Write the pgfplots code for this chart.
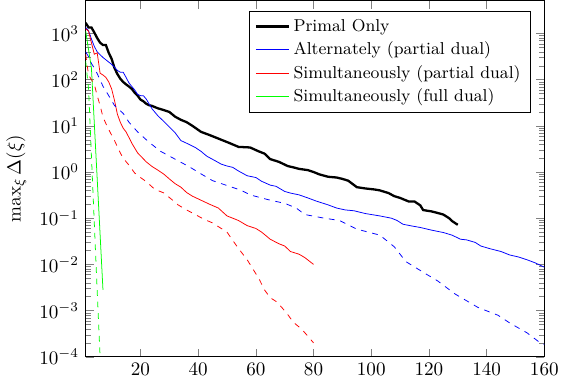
\documentclass[border=0pt]{standalone}
\usepackage{pgfplots}
\pgfplotsset{compat=1.18}
\begin{document}
\begin{tikzpicture}
\begin{axis}[
  scale only axis,
  width=240pt, height=186.5pt,
  ymode=log,
  xmin=1, xmax=160,
  ymin=1e-4, ymax=5.2e3,
  xtick={20,40,60,80,100,120,140,160},
  ytick={1e-4,1e-3,1e-2,1e-1,1,10,100,1000},
  ylabel={$\max_\xi \Delta(\xi)$},
  legend pos=north east,
  legend cell align=left,
  legend style={font=\small},
]
% Primal Only
\addplot[black, very thick] coordinates {
(1,1698)(2,1349)(3,1349)(4,1047)(5,794)(6,631)(7,562)(8,562)(9,380)(10,282)
(11,178)(12,132)(13,105)(14,89)(15,79)(16,71)(17,63)(18,52)(19,45)(20,37)
(21,34)(22,30)(23,28)(24,27)(26,24)(28,22)(30,20)(32,15.8)(34,13.5)(36,12)
(38,10)(41,7.4)(44,6.3)(48,5.0)(51,4.2)(54,3.5)(58,3.4)(61,2.8)(63,2.5)(65,1.9)
(68,1.66)(71,1.35)(73,1.26)(75,1.17)(78,1.10)(80,1.0)(82,0.89)(85,0.79)(88,0.76)(90,0.71)
(92,0.65)(95,0.47)(98,0.44)(101,0.42)(103,0.40)(106,0.35)(108,0.30)(110,0.275)(113,0.23)(115,0.23)
(117,0.19)(118,0.15)(121,0.14)(123,0.13)(125,0.12)(127,0.10)(128,0.087)(130,0.072)
};
\addlegendentry{Primal Only}
% Alternately (partial dual)
\addplot[blue] coordinates {
(1,1349)(2,1148)(3,759)(4,525)(5,398)(6,347)(7,302)(8,269)(9,240)(10,214)
(11,186)(12,158)(13,145)(14,145)(15,112)(16,85)(17,71)(18,60)(19,48)(20,45)
(21,45)(22,38)(24,23.4)(26,16.6)(28,12.6)(30,9.5)(32,7.1)(34,4.8)(36,4.2)(39,3.4)
(41,2.8)(43,2.2)(46,1.74)(48,1.48)(50,1.35)(52,1.26)(54,1.05)(57,0.83)(60,0.76)(62,0.63)
(65,0.52)(67,0.49)(70,0.38)(72,0.35)(75,0.32)(78,0.275)(81,0.234)(85,0.195)(88,0.166)(91,0.151)
(94,0.145)(98,0.126)(103,0.112)(107,0.100)(109,0.089)(111,0.074)(114,0.068)(117,0.063)(121,0.055)(125,0.049)
(128,0.043)(131,0.035)(133,0.034)(136,0.030)(138,0.025)(141,0.022)(145,0.019)(148,0.016)(151,0.0145)(154,0.0126)
(157,0.0107)(160,0.0087)
};
\addlegendentry{Alternately (partial dual)}
% Simultaneously (partial dual)
\addplot[red] coordinates {
(1,1259)(2,1122)(3,631)(4,355)(5,380)(6,138)(7,126)(8,112)(9,89)(10,63)
(11,35.5)(12,17.8)(13,12)(14,8.9)(15,7.4)(16,5.6)(17,4.2)(18,3.3)(19,2.6)(20,2.24)
(22,1.66)(24,1.32)(26,1.10)(28,0.91)(30,0.71)(32,0.56)(34,0.47)(36,0.36)(38,0.30)(41,0.245)
(44,0.20)(47,0.166)(50,0.112)(52,0.10)(54,0.089)(57,0.069)(60,0.060)(62,0.050)(65,0.035)(68,0.028)
(70,0.025)(72,0.019)(75,0.0166)(77,0.014)(80,0.010)
};
\addlegendentry{Simultaneously (partial dual)}
% Simultaneously (full dual)
\addplot[green] coordinates {
(1,1122)(2,447)(3,178)(4,11.2)(5,0.71)(6,0.045)(7,0.0028)
};
\addlegendentry{Simultaneously (full dual)}
% dashed, no legend
\addplot[blue, dashed, forget plot] coordinates {
(1,398)(2,316)(3,224)(4,178)(5,135)(7,72)(9,45)(11,27.5)(14,18.6)(16,12)
(19,7.4)(23,4.4)(27,2.8)(32,1.9)(37,1.29)(41,0.91)(45,0.65)(50,0.51)(55,0.40)(58,0.32)
(65,0.245)(70,0.21)(74,0.166)(77,0.12)(83,0.102)(89,0.089)(95,0.058)(103,0.043)(108,0.024)(112,0.0115)
(119,0.0062)(123,0.0044)(129,0.0023)(137,0.00117)(144,0.00079)(148,0.00054)(154,0.00033)(158.6,0.0002)(160,0.000186)
};
\addplot[red, dashed, forget plot] coordinates {
(1,355)(2,126)(3,100)(4,79)(5,45)(6,27.5)(7,15.5)(8,11.2)(9,8.3)(10,6.3)
(11,4.8)(12,3.5)(13,2.6)(14,2.0)(16,1.41)(18,0.95)(20,0.76)(22,0.62)(25,0.42)(28,0.355)
(31,0.25)(33,0.195)(36,0.151)(39,0.12)(42,0.095)(45,0.079)(48,0.060)(50,0.050)(52,0.033)(54,0.022)
(57,0.0126)(59,0.0079)(61,0.005)(63,0.0028)(65,0.0019)(67,0.00158)(69,0.00117)(71,0.00083)(73,0.00056)(76,0.00039)
(78,0.00028)(80,0.0002)
};
\addplot[green, dashed, forget plot] coordinates {
(1,251)(2,63)(3,2.2)(4,0.076)(5,0.0026)(6,0.0001)
};
\end{axis}
\end{tikzpicture}
\end{document}
